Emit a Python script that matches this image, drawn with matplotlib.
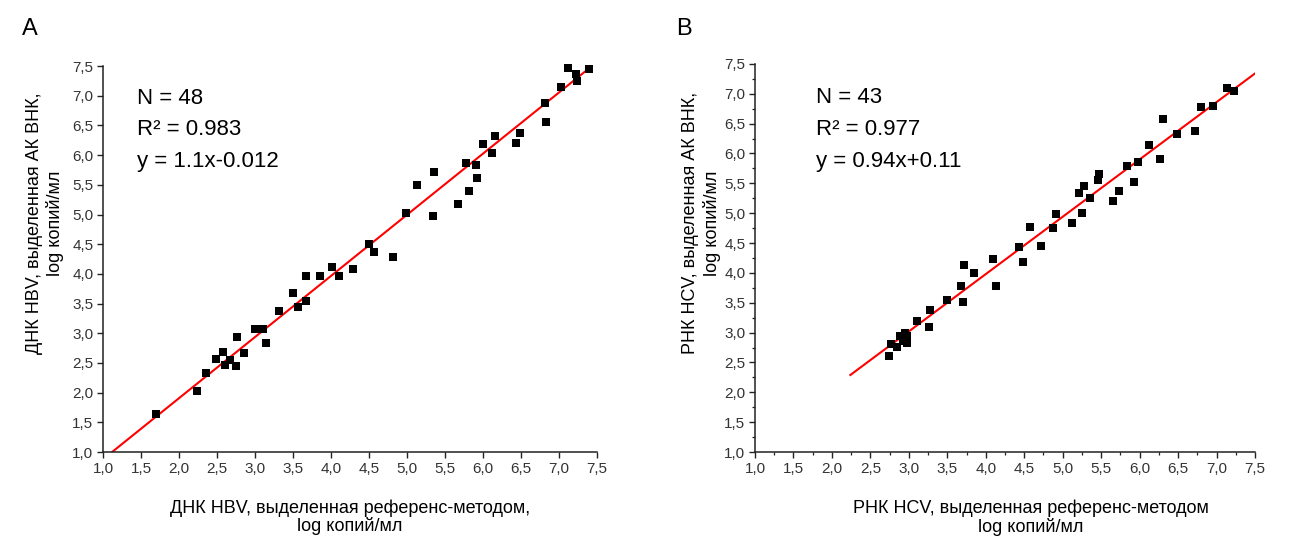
import matplotlib
matplotlib.use("Agg")
import matplotlib.pyplot as plt
from matplotlib.ticker import MultipleLocator

plt.rcParams["font.family"] = ["Liberation Sans", "DejaVu Sans"]

# shared axis ticks
tick_values = [1.0, 1.5, 2.0, 2.5, 3.0, 3.5, 4.0, 4.5, 5.0, 5.5, 6.0, 6.5, 7.0, 7.5]
tick_labels = ["1,0", "1,5", "2,0", "2,5", "3,0", "3,5", "4,0", "4,5",
               "5,0", "5,5", "6,0", "6,5", "7,0", "7,5"]

# panel A: HBV DNA, reference method vs VNK
hbv_ref = [1.70, 2.24, 2.36, 2.49, 2.58, 2.61, 2.67, 2.75, 2.76, 2.85, 3.00, 3.10,
           3.14, 3.32, 3.50, 3.57, 3.67, 3.67, 3.86, 4.01, 4.11, 4.29, 4.50, 4.57,
           4.82, 4.98, 5.13, 5.34, 5.35, 5.67, 5.78, 5.81, 5.91, 5.92, 6.00, 6.12,
           6.16, 6.43, 6.48, 6.81, 6.83, 7.03, 7.12, 7.22, 7.24, 7.39]
hbv_vnk = [1.64, 2.02, 2.33, 2.56, 2.69, 2.47, 2.55, 2.45, 2.94, 2.66, 3.08, 3.08,
           2.84, 3.38, 3.67, 3.45, 3.55, 3.97, 3.97, 4.11, 3.97, 4.09, 4.51, 4.37,
           4.29, 5.02, 5.50, 4.98, 5.72, 5.18, 5.86, 5.39, 5.83, 5.62, 6.18, 6.04,
           6.33, 6.20, 6.38, 6.88, 6.56, 7.15, 7.47, 7.37, 7.25, 7.45]
hbv_fit_x = [1.12, 7.43]
hbv_fit_y = [1.00, 7.50]
hbv_stats = ["N = 48", "R\u00b2 = 0.983", "y = 1.1x-0.012"]

# panel B: HCV RNA, reference method vs VNK
hcv_ref = [2.74, 2.77, 2.85, 2.88, 2.92, 2.95, 2.97, 2.97, 3.10, 3.26, 3.27, 3.49,
           3.68, 3.70, 3.72, 3.85, 4.10, 4.13, 4.43, 4.49, 4.58, 4.72, 4.87, 4.91,
           5.12, 5.21, 5.25, 5.28, 5.35, 5.46, 5.47, 5.66, 5.73, 5.84, 5.93, 5.98,
           6.12, 6.26, 6.31, 6.49, 6.72, 6.80, 6.95, 7.13, 7.23]
hcv_vnk = [2.60, 2.81, 2.76, 2.94, 2.86, 3.00, 2.83, 2.94, 3.19, 3.10, 3.38, 3.54,
           3.78, 3.52, 4.14, 4.00, 4.24, 3.78, 4.44, 4.18, 4.77, 4.45, 4.76, 4.99,
           4.83, 5.33, 5.00, 5.46, 5.25, 5.56, 5.66, 5.21, 5.38, 5.79, 5.53, 5.86,
           6.15, 5.90, 6.57, 6.33, 6.37, 6.78, 6.80, 7.09, 7.04]
hcv_fit_x = [2.24, 7.51]
hcv_fit_y = [2.29, 7.35]
hcv_stats = ["N = 43", "R\u00b2 = 0.977", "y = 0.94x+0.11"]

INK = "#222222"


def style_axis(ax, minor):
    ax.set_xlim(1.0, 7.5)
    ax.set_ylim(1.0, 7.5)
    ax.set_xticks(tick_values)
    ax.set_xticklabels(tick_labels)
    ax.set_yticks(tick_values)
    ax.set_yticklabels(tick_labels)
    if minor:
        ax.xaxis.set_minor_locator(MultipleLocator(0.25))
        ax.yaxis.set_minor_locator(MultipleLocator(0.25))
    for side in ("top", "right"):
        ax.spines[side].set_visible(False)
    for side in ("left", "bottom"):
        ax.spines[side].set_linewidth(1.1)
        ax.spines[side].set_color(INK)
    ax.tick_params(which="major", direction="out", length=4, width=1.0,
                   color=INK, labelsize=11, labelcolor="#333333", pad=3)
    ax.tick_params(which="minor", direction="out", length=2.5, width=0.9, color=INK)


fig = plt.figure(figsize=(12.97, 5.36), dpi=100)
ax_a = fig.add_axes([0.0794, 0.1567, 0.381, 0.720])
ax_b = fig.add_axes([0.5821, 0.1567, 0.3855, 0.724])

# panel A
ax_a.plot(hbv_fit_x, hbv_fit_y, color="red", lw=1.5, zorder=2)
ax_a.scatter(hbv_ref, hbv_vnk, marker="s", s=26, color="black", lw=0,
             zorder=3, clip_on=False)
style_axis(ax_a, minor=False)
for text, ypos in zip(hbv_stats, [0.903, 0.821, 0.738]):
    ax_a.text(0.068, ypos, text, transform=ax_a.transAxes, fontsize=16,
              va="baseline", ha="left", color="black")
ax_a.set_xlabel("ДНК HBV, выделенная референс-методом,\nlog копий/мл",
                fontsize=13, linespacing=1.05, color="black")
ax_a.xaxis.set_label_coords(0.5, -0.122)
ax_a.set_ylabel("ДНК HBV, выделенная АК ВНК,\nlog копий/мл",
                fontsize=13, linespacing=1.25, color="black")
ax_a.yaxis.set_label_coords(-0.078, 0.593)

# panel B
ax_b.plot(hcv_fit_x, hcv_fit_y, color="red", lw=1.5, zorder=2)
ax_b.scatter(hcv_ref, hcv_vnk, marker="s", s=32, color="black", lw=0,
             zorder=3, clip_on=False)
style_axis(ax_b, minor=True)
for text, ypos in zip(hcv_stats, [0.899, 0.817, 0.734]):
    ax_b.text(0.123, ypos, text, transform=ax_b.transAxes, fontsize=16,
              va="baseline", ha="left", color="black")
ax_b.set_xlabel("РНК HCV, выделенная референс-методом\nlog копий/мл",
                fontsize=13, linespacing=1.05, color="black")
ax_b.xaxis.set_label_coords(0.552, -0.122)
ax_b.set_ylabel("РНК HCV, выделенная АК ВНК,\nlog копий/мл",
                fontsize=13, linespacing=1.25, color="black")
ax_b.yaxis.set_label_coords(-0.068, 0.59)

fig.text(0.017, 0.966, "A", fontsize=17, va="top", ha="left")
fig.text(0.521, 0.966, "B", fontsize=17, va="top", ha="left")

fig.savefig("out.png", dpi=100)
